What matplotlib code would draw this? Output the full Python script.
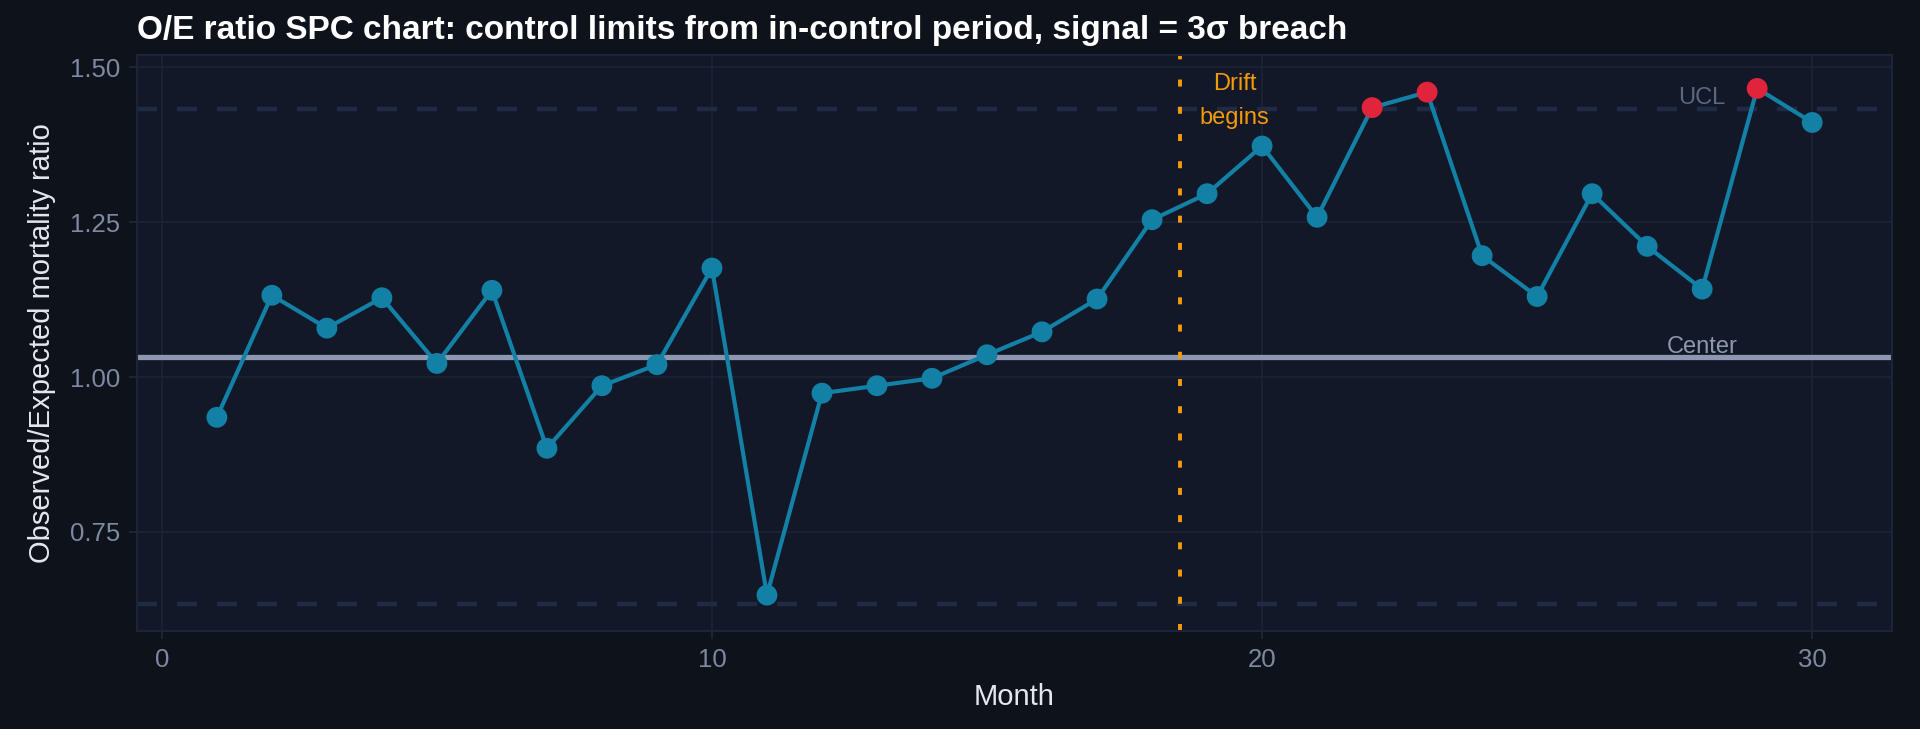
import matplotlib
matplotlib.use("Agg")
import matplotlib.pyplot as plt
import numpy as np

plt.rcParams['font.family'] = ['Liberation Sans', 'DejaVu Sans']

months = list(range(1, 31))
oe_ratio = [0.935, 1.132, 1.079, 1.128, 1.022, 1.140, 0.885, 0.986, 1.020, 1.176,
            0.648, 0.974, 0.986, 0.998, 1.036, 1.073, 1.126, 1.254, 1.296, 1.373,
            1.258, 1.435, 1.460, 1.196, 1.130, 1.296, 1.211, 1.142, 1.466, 1.411]
center = 1.033
ucl = 1.433
lcl = 0.633
drift_month = 18.5

x_ticks = [0, 10, 20, 30]
y_ticks = [0.75, 1.00, 1.25, 1.50]
y_tick_labels = ["0.75", "1.00", "1.25", "1.50"]

FIG_BG = '#0e121a'
PANEL_BG = '#121827'
GRID = '#1b2439'
LIMIT = '#1f2a45'
LINE = '#1380a6'
RED = '#e0243c'
CENTER = '#8c97b0'
ORANGE = '#f59a0b'
TICK = '#7e89a2'

fig = plt.figure(figsize=(19.2, 7.29), dpi=100, facecolor=FIG_BG)
ax = fig.add_axes([0.0714, 0.1344, 0.914, 0.7902])
ax.set_facecolor(PANEL_BG)

ax.set_xlim(-0.45, 31.45)
ax.set_ylim(0.59, 1.52)

ax.set_xticks(x_ticks)
ax.set_yticks(y_ticks)
ax.set_yticklabels(y_tick_labels)
ax.grid(True, color=GRID, linewidth=1.2, zorder=0)
ax.set_axisbelow(True)
for s in ax.spines.values():
    s.set_color(GRID)
    s.set_linewidth(1.5)
ax.tick_params(colors=GRID, labelcolor=TICK, labelsize=18.5, length=6, width=1.5, pad=6)

ax.axhline(ucl, color=LIMIT, linewidth=3.2, linestyle=(0, (4.5, 4.5)), zorder=1)
ax.axhline(lcl, color=LIMIT, linewidth=3.2, linestyle=(0, (4.5, 4.5)), zorder=1)
ax.axhline(center, color=CENTER, linewidth=3.8, zorder=2)
ax.axvline(drift_month, color=ORANGE, linewidth=2.8, linestyle=(0, (1.8, 5.2)), zorder=2)

ax.plot(months, oe_ratio, color=LINE, linewidth=3.0, zorder=3)
colors = [RED if (v > ucl or v < lcl) else LINE for v in oe_ratio]
ax.scatter(months, oe_ratio, s=15**2, c=colors, zorder=4, linewidths=0)

ax.text(19.5, 1.446, "Drift\nbegins", color=ORANGE, fontsize=17, ha='center', va='center',
        linespacing=1.7, zorder=5)
ax.text(28, 1.45, "UCL", color='#5c6782', fontsize=17, ha='center', va='center', zorder=5)
ax.text(28, 1.049, "Center", color='#8f99ae', fontsize=17, ha='center', va='center', zorder=5)

ax.set_xlabel("Month", color='#e4e7ee', fontsize=21, labelpad=8)
ax.set_ylabel("Observed/Expected mortality ratio", color='#e4e7ee', fontsize=21, labelpad=10)

fig.text(0.0714, 0.958, "O/E ratio SPC chart: control limits from in-control period, signal = 3σ breach",
         color='white', fontsize=24, fontweight='bold', ha='left', va='center')

fig.savefig("out.png", dpi=100, facecolor=FIG_BG)
